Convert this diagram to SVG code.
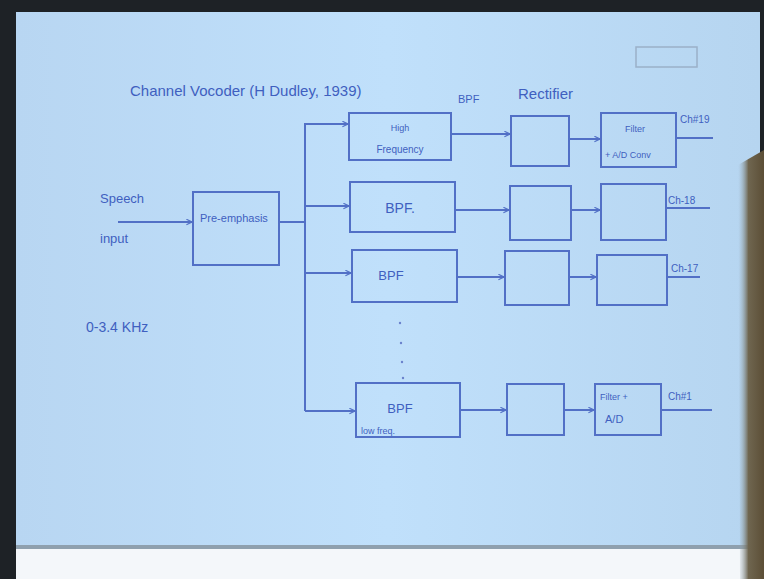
<svg xmlns="http://www.w3.org/2000/svg" width="764" height="579" viewBox="0 0 764 579">
<defs>
<style>
.box{fill:none;stroke:#5270c6;stroke-width:2}
.ln{fill:none;stroke:#5270c6;stroke-width:2}
.t{font-family:"Liberation Sans",Arial,sans-serif;fill:#3f5fc0}
</style>
<marker id="ah" viewBox="0 0 10 10" refX="9" refY="5" markerWidth="7" markerHeight="7" orient="auto" markerUnits="userSpaceOnUse">
<path d="M1,1 L9,5 L1,9" fill="none" stroke="#5270c6" stroke-width="1.6"/>
</marker>
<linearGradient id="paper" x1="0" y1="0" x2="1" y2="0">
<stop offset="0" stop-color="#b8d6f2"/>
<stop offset="0.5" stop-color="#c0e0fb"/>
<stop offset="1" stop-color="#b6d5f0"/>
</linearGradient>
<linearGradient id="hand" x1="0" y1="0" x2="1" y2="0">
<stop offset="0" stop-color="#9fb8cc" stop-opacity="0"/>
<stop offset="0.4" stop-color="#6f6650"/>
<stop offset="1" stop-color="#5c4e36"/>
</linearGradient>
</defs>
<rect x="0" y="0" width="764" height="579" fill="#1e2226"/>
<rect x="16" y="12" width="744" height="538" fill="url(#paper)"/>
<rect x="16" y="548" width="736" height="31" fill="#f4f7fa"/>
<rect x="16" y="545" width="736" height="4" fill="#8fa0ae"/>
<path d="M738,165 L764,150 L764,579 L740,579 Z" fill="url(#hand)"/>
<rect x="636" y="47" width="61" height="20" fill="none" stroke="#9ab0c8" stroke-width="1.5"/>

<text class="t" x="130" y="96" font-size="15">Channel Vocoder (H Dudley, 1939)</text>
<text class="t" x="458" y="103" font-size="11">BPF</text>
<text class="t" x="518" y="99" font-size="15">Rectifier</text>
<text class="t" x="100" y="203" font-size="13">Speech</text>
<text class="t" x="100" y="243" font-size="13">input</text>
<text class="t" x="86" y="332" font-size="14">0-3.4 KHz</text>

<g id="connectors">
<line class="ln" x1="118" y1="222" x2="192" y2="222" marker-end="url(#ah)"/>
<line class="ln" x1="279" y1="222" x2="305" y2="222"/>
<line class="ln" x1="305" y1="123" x2="305" y2="411"/>
<line class="ln" x1="305" y1="124" x2="348" y2="124" marker-end="url(#ah)"/>
<line class="ln" x1="305" y1="206" x2="349" y2="206" marker-end="url(#ah)"/>
<line class="ln" x1="305" y1="273" x2="351" y2="273" marker-end="url(#ah)"/>
<line class="ln" x1="305" y1="411" x2="355" y2="411" marker-end="url(#ah)"/>
<line class="ln" x1="451" y1="134" x2="510" y2="134" marker-end="url(#ah)"/>
<line class="ln" x1="569" y1="139" x2="600" y2="139" marker-end="url(#ah)"/>
<line class="ln" x1="676" y1="138" x2="713" y2="138"/>
<line class="ln" x1="455" y1="210" x2="509" y2="210" marker-end="url(#ah)"/>
<line class="ln" x1="571" y1="210" x2="600" y2="210" marker-end="url(#ah)"/>
<line class="ln" x1="666" y1="208" x2="710" y2="208"/>
<line class="ln" x1="457" y1="277" x2="504" y2="277" marker-end="url(#ah)"/>
<line class="ln" x1="569" y1="277" x2="596" y2="277" marker-end="url(#ah)"/>
<line class="ln" x1="667" y1="277" x2="700" y2="277"/>
<line class="ln" x1="460" y1="410" x2="506" y2="410" marker-end="url(#ah)"/>
<line class="ln" x1="564" y1="410" x2="594" y2="410" marker-end="url(#ah)"/>
<line class="ln" x1="661" y1="410" x2="712" y2="410"/>
<g fill="#6a82cc">
<circle cx="400" cy="323" r="1.2"/>
<circle cx="401" cy="343" r="1.2"/>
<circle cx="402" cy="362" r="1.2"/>
<circle cx="403" cy="378" r="1.2"/>
</g>
</g>

<g id="pre-emphasis">
<rect class="box" x="193" y="192" width="86" height="73"/>
<text class="t" x="200" y="222" font-size="11">Pre-emphasis</text>
</g>

<g id="bpf-high">
<rect class="box" x="349" y="113" width="102" height="47"/>
<text class="t" x="400" y="131" font-size="9" text-anchor="middle">High</text>
<text class="t" x="400" y="153" font-size="10" text-anchor="middle">Frequency</text>
</g>
<g id="rect-19"><rect class="box" x="511" y="116" width="58" height="50"/></g>
<g id="filter-19">
<rect class="box" x="601" y="113" width="75" height="54"/>
<text class="t" x="625" y="132" font-size="9">Filter</text>
<text class="t" x="605" y="158" font-size="9">+ A/D Conv</text>
</g>
<text class="t" x="680" y="123" font-size="10">Ch#19</text>

<g id="bpf-18">
<rect class="box" x="350" y="182" width="105" height="50"/>
<text class="t" x="400" y="213" font-size="14" text-anchor="middle">BPF.</text>
</g>
<g id="rect-18"><rect class="box" x="510" y="186" width="61" height="54"/></g>
<g id="filter-18"><rect class="box" x="601" y="184" width="65" height="56"/></g>
<text class="t" x="668" y="204" font-size="10">Ch-18</text>

<g id="bpf-17">
<rect class="box" x="352" y="250" width="105" height="52"/>
<text class="t" x="391" y="280" font-size="13" text-anchor="middle">BPF</text>
</g>
<g id="rect-17"><rect class="box" x="505" y="251" width="64" height="54"/></g>
<g id="filter-17"><rect class="box" x="597" y="255" width="70" height="50"/></g>
<text class="t" x="671" y="272" font-size="10">Ch-17</text>

<g id="bpf-1">
<rect class="box" x="356" y="383" width="104" height="54"/>
<text class="t" x="400" y="413" font-size="13" text-anchor="middle">BPF</text>
<text class="t" x="361" y="434" font-size="9">low freq.</text>
</g>
<g id="rect-1"><rect class="box" x="507" y="384" width="57" height="51"/></g>
<g id="filter-1">
<rect class="box" x="595" y="384" width="66" height="51"/>
<text class="t" x="600" y="400" font-size="9">Filter +</text>
<text class="t" x="605" y="423" font-size="11">A/D</text>
</g>
<text class="t" x="668" y="400" font-size="10">Ch#1</text>
</svg>
